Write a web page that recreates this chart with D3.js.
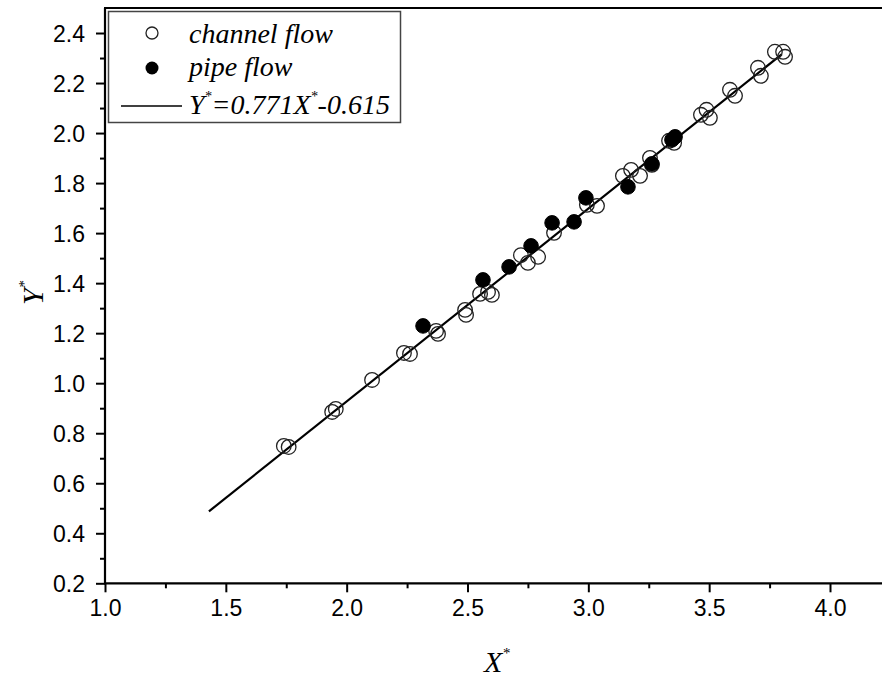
<!DOCTYPE html>
<html>
<head>
<meta charset="utf-8">
<script src="https://cdn.jsdelivr.net/npm/d3@7"></script>
<style>
  html, body { margin: 0; padding: 0; background: #fff; }
  svg { display: block; }
  .tick text { font-family: "Liberation Sans", Arial, sans-serif; font-size: 23px; fill: #000; }
</style>
</head>
<body>
<svg id="chart" width="882" height="678"></svg>
<script>
// Dimensionless correlation: channel flow and pipe flow samples
const channelX = [1.74, 1.76, 1.94, 1.955, 2.105, 2.237, 2.262, 2.370, 2.378, 2.490, 2.494,
  2.552, 2.585, 2.601, 2.721, 2.750, 2.792, 2.858, 2.994, 3.036, 3.143, 3.177, 3.214,
  3.255, 3.263, 3.334, 3.355, 3.466, 3.489, 3.503, 3.586, 3.607, 3.702, 3.714, 3.772, 3.806, 3.814];
const channelY = [0.749, 0.745, 0.885, 0.897, 1.013, 1.121, 1.117, 1.209, 1.197, 1.293, 1.273,
  1.357, 1.365, 1.353, 1.512, 1.481, 1.505, 1.601, 1.713, 1.709, 1.829, 1.853, 1.829,
  1.901, 1.873, 1.969, 1.961, 2.073, 2.093, 2.061, 2.173, 2.149, 2.261, 2.229, 2.325, 2.325, 2.305];

const pipeX = [2.316, 2.564, 2.672, 2.763, 2.850, 2.941, 2.990, 3.164, 3.263, 3.346, 3.359];
const pipeY = [1.229, 1.413, 1.465, 1.549, 1.641, 1.645, 1.741, 1.785, 1.877, 1.973, 1.985];

// Fitted line Y* = 0.771 X* - 0.615 over the drawn range
const fitSlope = 0.771;
const fitIntercept = -0.615;
const fitRange = [1.43, 3.80];

const xTicks = [1.0, 1.5, 2.0, 2.5, 3.0, 3.5, 4.0];
const yTicks = [0.2, 0.4, 0.6, 0.8, 1.0, 1.2, 1.4, 1.6, 1.8, 2.0, 2.2, 2.4];
const xMinor = [1.25, 1.75, 2.25, 2.75, 3.25, 3.75];
const yMinor = [0.3, 0.5, 0.7, 0.9, 1.1, 1.3, 1.5, 1.7, 1.9, 2.1, 2.3];

const svg = d3.select("#chart");
const mLeft = 105, mRight = 882, mTop = 8, mBottom = 583.3;

const x = d3.scaleLinear().domain([1.0, 4.0]).range([mLeft, 830]);
const y = d3.scaleLinear().domain([0.2, 2.5]).range([mBottom, mTop]);

// Minor ticks
svg.append("g").attr("transform", `translate(0,${mBottom})`)
  .call(d3.axisBottom(x).tickValues(xMinor).tickSize(5).tickFormat(""))
  .call(g => g.select(".domain").remove())
  .selectAll("line").attr("stroke", "#000").attr("stroke-width", 2);
svg.append("g").attr("transform", `translate(${mLeft},0)`)
  .call(d3.axisLeft(y).tickValues(yMinor).tickSize(5).tickFormat(""))
  .call(g => g.select(".domain").remove())
  .selectAll("line").attr("stroke", "#000").attr("stroke-width", 2);

// Major axes
const xAxis = svg.append("g").attr("transform", `translate(0,${mBottom})`)
  .call(d3.axisBottom(x).tickValues(xTicks).tickSize(9).tickPadding(7).tickFormat(d3.format(".1f")));
xAxis.select(".domain").remove();
xAxis.selectAll("line").attr("stroke", "#000").attr("stroke-width", 2);

const yAxis = svg.append("g").attr("transform", `translate(${mLeft},0)`)
  .call(d3.axisLeft(y).tickValues(yTicks).tickSize(9).tickPadding(11).tickFormat(d3.format(".1f")));
yAxis.select(".domain").remove();
yAxis.selectAll("line").attr("stroke", "#000").attr("stroke-width", 2);
yAxis.selectAll("text").attr("dy", "0.36em");

// Frame: left, bottom and top edges
svg.append("line").attr("x1", mLeft).attr("x2", mLeft).attr("y1", mTop).attr("y2", mBottom)
  .attr("stroke", "#000").attr("stroke-width", 2.2);
svg.append("line").attr("x1", mLeft - 1).attr("x2", mRight).attr("y1", mBottom).attr("y2", mBottom)
  .attr("stroke", "#000").attr("stroke-width", 2.2);
svg.append("line").attr("x1", mLeft - 1).attr("x2", mRight).attr("y1", mTop).attr("y2", mTop)
  .attr("stroke", "#000").attr("stroke-width", 2.2);

// Fit line
svg.append("line")
  .attr("x1", x(fitRange[0])).attr("y1", y(fitSlope * fitRange[0] + fitIntercept))
  .attr("x2", x(fitRange[1])).attr("y2", y(fitSlope * fitRange[1] + fitIntercept))
  .attr("stroke", "#000").attr("stroke-width", 2.2);

const r = 7.3;
// Channel flow: open circles
svg.append("g").selectAll("circle").data(d3.zip(channelX, channelY)).join("circle")
  .attr("cx", d => x(d[0])).attr("cy", d => y(d[1])).attr("r", r)
  .attr("fill", "none").attr("stroke", "#222").attr("stroke-width", 1.3);
// Pipe flow: filled circles
svg.append("g").selectAll("circle").data(d3.zip(pipeX, pipeY)).join("circle")
  .attr("cx", d => x(d[0])).attr("cy", d => y(d[1])).attr("r", r)
  .attr("fill", "#000").attr("stroke", "#000").attr("stroke-width", 1);

// Legend
const lg = svg.append("g");
lg.append("rect").attr("x", 108.5).attr("y", 11.5).attr("width", 292).attr("height", 111)
  .attr("fill", "#fff").attr("stroke", "#444").attr("stroke-width", 1.5);
lg.append("circle").attr("cx", 152).attr("cy", 33).attr("r", 6)
  .attr("fill", "none").attr("stroke", "#222").attr("stroke-width", 1.3);
lg.append("circle").attr("cx", 152).attr("cy", 68).attr("r", 6.5).attr("fill", "#000");
lg.append("line").attr("x1", 121).attr("x2", 182).attr("y1", 106).attr("y2", 106)
  .attr("stroke", "#000").attr("stroke-width", 1.5);
const serif = "'Liberation Serif', 'Times New Roman', serif";
const lt = (yy) => lg.append("text").attr("x", 189).attr("y", yy)
  .attr("font-family", serif).attr("font-style", "italic").attr("font-size", 28).attr("fill", "#000");
lt(43).text("channel flow");
lt(76).text("pipe flow");
const f = lt(114);
f.append("tspan").text("Y");
f.append("tspan").attr("font-size", 14).attr("dy", -13).text("*");
f.append("tspan").attr("dy", 13).text("=0.771X");
f.append("tspan").attr("font-size", 14).attr("dy", -13).text("*");
f.append("tspan").attr("dy", 13).text("-0.615");

// Axis titles
const xt = svg.append("text").attr("x", 484).attr("y", 672)
  .attr("font-family", serif).attr("font-style", "italic").attr("font-size", 30).attr("fill", "#000");
xt.append("tspan").text("X");
xt.append("tspan").attr("font-size", 15).attr("dy", -14).text("*");

const yt = svg.append("text").attr("transform", "translate(43,305) rotate(-90)")
  .attr("font-family", serif).attr("font-style", "italic").attr("font-size", 30).attr("fill", "#000");
yt.append("tspan").text("Y");
yt.append("tspan").attr("font-size", 15).attr("dy", -14).text("*");
</script>
</body>
</html>
